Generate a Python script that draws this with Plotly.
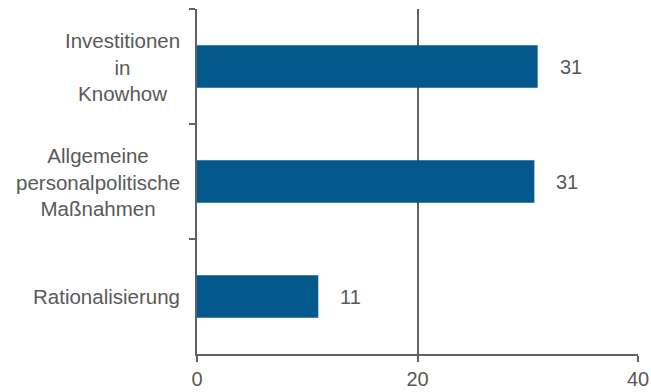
import plotly.graph_objects as go

categories = ["Investitionen<br>in<br>Knowhow",
              "Allgemeine<br>personalpolitische<br>Maßnahmen",
              "Rationalisierung"]
values = [30.9, 30.6, 11.0]
x_ticks = [0, 20, 40]

bar_color = "#03598c"
axis_color = "#5d6267"
text_color = "#595959"
font_family = "Liberation Sans, Arial, sans-serif"

ids = ["c0", "c1", "c2"]

fig = go.Figure(go.Bar(
    x=values, y=ids, orientation="h",
    marker=dict(color=bar_color, line=dict(width=0)),
    width=0.37,
    hoverinfo="skip",
))

annotations = []
for cid, lab in zip(ids, categories):
    annotations.append(dict(
        x=0, xref="paper", y=cid, yref="y",
        text=lab, showarrow=False, xanchor="right", yanchor="middle",
        align="center", xshift=-15,
        font=dict(size=20.5, color=text_color, family=font_family),
    ))
for cid, v in zip(ids, values):
    annotations.append(dict(
        x=v, xref="x", y=cid, yref="y",
        text=f"{v:.0f}", showarrow=False, xanchor="left", yanchor="middle",
        xshift=20,
        font=dict(size=20, color=text_color, family=font_family),
    ))

fig.update_layout(
    width=651, height=392,
    margin=dict(l=197, r=13, t=9, b=38, autoexpand=False),
    paper_bgcolor="white", plot_bgcolor="white",
    showlegend=False,
    font=dict(family=font_family, size=20, color=text_color),
    annotations=annotations,
    xaxis=dict(
        range=[0, 40], tickvals=x_ticks, ticktext=[str(t) for t in x_ticks],
        showgrid=True, gridcolor=axis_color, gridwidth=1.5,
        showline=True, linecolor=axis_color, linewidth=1.5,
        ticks="outside", ticklen=6, tickcolor=axis_color, tickwidth=1.5,
        zeroline=False, automargin=False,
        tickfont=dict(size=20, color=text_color, family=font_family),
    ),
    yaxis=dict(
        type="category", categoryorder="array", categoryarray=ids,
        autorange="reversed", automargin=False,
        showticklabels=False,
        showline=True, linecolor=axis_color, linewidth=1.5,
        ticks="outside", tickson="boundaries", ticklen=6,
        tickcolor=axis_color, tickwidth=1.5,
        showgrid=False, zeroline=False,
    ),
)

fig.write_html("out.html")
